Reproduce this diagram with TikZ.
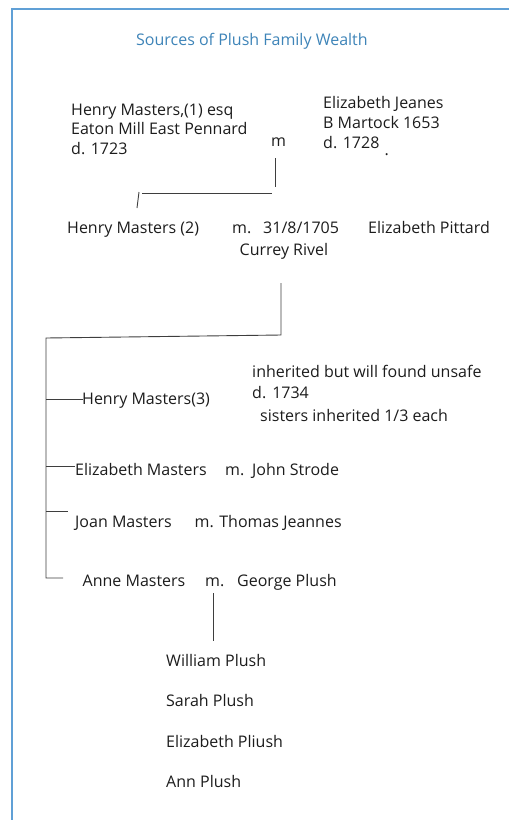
\documentclass[tikz,border=0pt]{standalone}
\usepackage{fontspec}
\setmainfont{Open Sans}
\definecolor{frameblue}{RGB}{96,160,214}
\definecolor{titleblue}{RGB}{62,132,184}
\definecolor{ink}{RGB}{28,28,28}
\begin{document}
\begin{tikzpicture}[x=1pt,y=-1pt,
  txt/.style={anchor=base west,inner sep=0pt,font=\fontsize{16}{19.5}\selectfont,text=ink},
  link/.style={draw=ink!85,line width=0.9pt}]
\useasboundingbox (0,0) rectangle (514,820);
\draw[frameblue,line width=2pt] (12,820) -- (12,9) -- (509,9);
\node[txt,text=titleblue] (title) at (136,45) {Sources of Plush Family Wealth};
% generation 1
\node[txt] (hm1a) at (71,115) {Henry Masters,(1) esq};
\node[txt] (hm1b) at (71,134.5) {Eaton Mill East Pennard};
\node[txt] (hm1c) at (71,154) {d. 1723};
\node[txt] (m1) at (271,146.5) {m};
\node[txt] (ej1) at (323,108.5) {Elizabeth Jeanes};
\node[txt] (ej2) at (323,128.5) {B Martock 1653};
\node[txt] (ej3) at (323,148) {d. 1728};
\node[txt] (dot) at (384.5,155.5) {.};
% generation 2
\node[txt] (hm2) at (67,233) {Henry Masters (2)};
\node[txt] (m2) at (232,233) {m.};
\node[txt] (date2) at (263,233) {31/8/1705};
\node[txt] (ep) at (368,233) {Elizabeth Pittard};
\node[txt] (place2) at (239.5,255) {Currey Rivel};
% generation 3
\node[txt] (hm3) at (82,404) {Henry Masters(3)};
\node[txt] (n1) at (252,377) {inherited but will found unsafe};
\node[txt] (n2) at (252,398) {d.\hspace{6pt}1734};
\node[txt] (n3) at (260,421) {sisters inherited 1/3 each};
\node[txt] (em) at (75,475) {Elizabeth Masters};
\node[txt] (m3) at (225,475) {m.};
\node[txt] (js) at (252,475) {John Strode};
\node[txt] (jm) at (75,527) {Joan Masters};
\node[txt] (tj) at (194.5,527) {m. Thomas Jeannes};
\node[txt] (am) at (82.5,586) {Anne Masters};
\node[txt] (m4) at (205,586) {m.};
\node[txt] (gp) at (237,586) {George Plush};
% generation 4
\node[txt] (wp) at (166,666) {William Plush};
\node[txt] (sp) at (166,706) {Sarah Plush};
\node[txt] (elp) at (166,747) {Elizabeth Pliush};
\node[txt] (ap) at (166,787) {Ann Plush};
% connector points
\coordinate (c1t) at (275,158);
\coordinate (c1b) at (275,187);
\coordinate (c2r) at (272,193);
\coordinate (c2l) at (142,193);
\coordinate (c3t) at (139,192);
\coordinate (c3b) at (137,208);
\coordinate (c4t) at (281,283);
\coordinate (c4b) at (281,335);
\coordinate (c5l) at (46,338);
\coordinate (c6b) at (46,578);
\coordinate (b1) at (46,399);
\coordinate (b2) at (46,466);
\coordinate (b3) at (46,511);
\coordinate (b1e) at (83,399);
\coordinate (b2e) at (75,466);
\coordinate (b3e) at (68,511);
\coordinate (b4e) at (63,578);
\coordinate (c7t) at (213,593);
\coordinate (c7b) at (213,641);
% connectors
\draw[link] (c1t) -- (c1b);
\draw[link] (c2l) -- (c2r);
\draw[link] (c3t) -- (c3b);
\draw[link] (c4t) -- (c4b) -- (c5l) -- (c6b) -- (b4e);
\draw[link] (b1) -- (b1e);
\draw[link] (b2) -- (b2e);
\draw[link] (b3) -- (b3e);
\draw[link] (c7t) -- (c7b);
\end{tikzpicture}
\end{document}
